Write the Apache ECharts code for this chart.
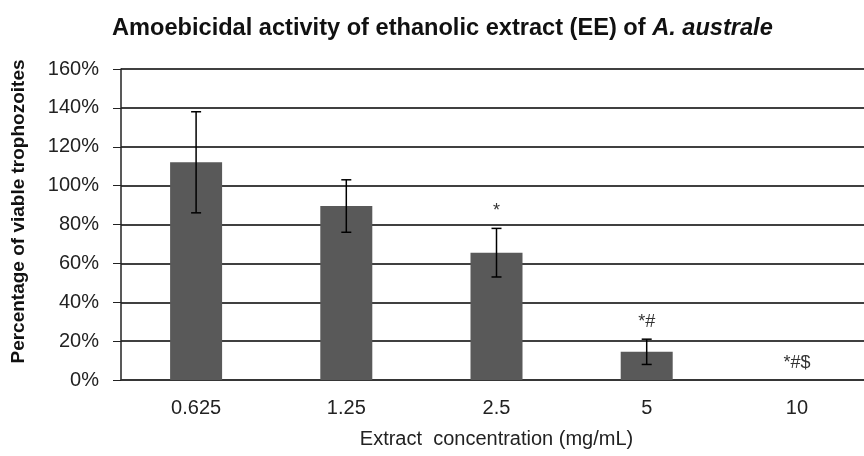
<!DOCTYPE html>
<html>
<head>
    <meta charset="utf-8">
    <script src="https://cdn.jsdelivr.net/npm/echarts@6/dist/echarts.min.js"></script>
</head>
<body style="margin:0;background:#fff;overflow:hidden">
<!-- plot area runs a little past the right edge of the picture, so the div is wider than the window -->
<div id="main" style="width: 872px;height:456px"></div>

<script type="text/javascript">
    // concentrations (mg/mL)
    var categories = ['0.625', '1.25', '2.5', '5', '10'];
    // mean % of viable trophozoites and error (+/-)
    var means = [112, 89.5, 65.5, 14.5, 0];
    var errors = [26, 13.5, 12.5, 6.5, 0];
    // significance marks above bars
    var marks = ['', '', '*', '*#', '*#$'];
    var yTicks = [0, 20, 40, 60, 80, 100, 120, 140, 160];

    var myChart = echarts.init(document.getElementById('main'));
    var font = 'Arial, "Liberation Sans", sans-serif';

    var option = {
        animation: false,
        title: {
            text: '{n|Amoebicidal activity of ethanolic extract (EE) of }{i|A. australe}',
            left: 107,
            top: 11,
            textStyle: {
                rich: {
                    n: { fontFamily: font, fontSize: 23.6, fontWeight: 'bold', color: '#111' },
                    i: { fontFamily: font, fontSize: 23.6, fontWeight: 'bold', fontStyle: 'italic', color: '#111' }
                }
            }
        },
        grid: { left: 121, top: 69, right: 0, bottom: 76 },
        xAxis: {
            type: 'category',
            data: categories,
            name: 'Extract  concentration (mg/mL)',
            nameLocation: 'middle',
            nameGap: 49,
            nameTextStyle: { fontFamily: font, fontSize: 20, color: '#222' },
            axisLine: { lineStyle: { color: '#333', width: 1.5 } },
            axisTick: { show: false },
            axisLabel: { fontFamily: font, fontSize: 20, color: '#222', margin: 18 }
        },
        yAxis: {
            type: 'value',
            min: yTicks[0],
            max: yTicks[yTicks.length - 1],
            interval: 20,
            name: 'Percentage of viable trophozoites',
            nameLocation: 'middle',
            nameRotate: 90,
            nameGap: 93,
            nameTextStyle: { fontFamily: font, fontSize: 19, fontWeight: 'bold', color: '#111', padding: [0, 0, 0, 26] },
            axisLine: { show: true, lineStyle: { color: '#222', width: 1.5 } },
            axisTick: { show: true, inside: false, length: 8, lineStyle: { color: '#222' } },
            axisLabel: { fontFamily: font, fontSize: 20, color: '#222', margin: 22, formatter: '{value}%' },
            splitLine: {
                lineStyle: {
                    width: 1.5,
                    color: function (v, i) { return i === yTicks.length - 1 ? '#999' : '#383838'; }
                }
            }
        },
        series: [
            {
                type: 'bar',
                data: means,
                barWidth: 52,
                itemStyle: { color: '#595959' }
            },
            {
                type: 'custom',
                data: means.map(function (m, i) { return [i, m - errors[i], m + errors[i]]; }),
                renderItem: function (params, api) {
                    var lo = api.coord([api.value(0), api.value(1)]);
                    var hi = api.coord([api.value(0), api.value(2)]);
                    var x = lo[0];
                    var cap = 5;
                    var children = [];
                    if (api.value(2) > api.value(1)) {
                        var st = { stroke: '#000', lineWidth: 1.5 };
                        children.push(
                            { type: 'line', shape: { x1: x, y1: lo[1], x2: x, y2: hi[1] }, style: st },
                            { type: 'line', shape: { x1: x - cap, y1: lo[1], x2: x + cap, y2: lo[1] }, style: st },
                            { type: 'line', shape: { x1: x - cap, y1: hi[1], x2: x + cap, y2: hi[1] }, style: st }
                        );
                    }
                    var mk = marks[params.dataIndex];
                    if (mk) {
                        children.push({
                            type: 'text',
                            style: {
                                text: mk, x: x, y: hi[1] - 17,
                                align: 'center', verticalAlign: 'middle',
                                font: '18px ' + font, fill: '#333'
                            }
                        });
                    }
                    return { type: 'group', children: children };
                },
                z: 5
            }
        ]
    };

    option && myChart.setOption(option);
</script>
</body>
</html>
